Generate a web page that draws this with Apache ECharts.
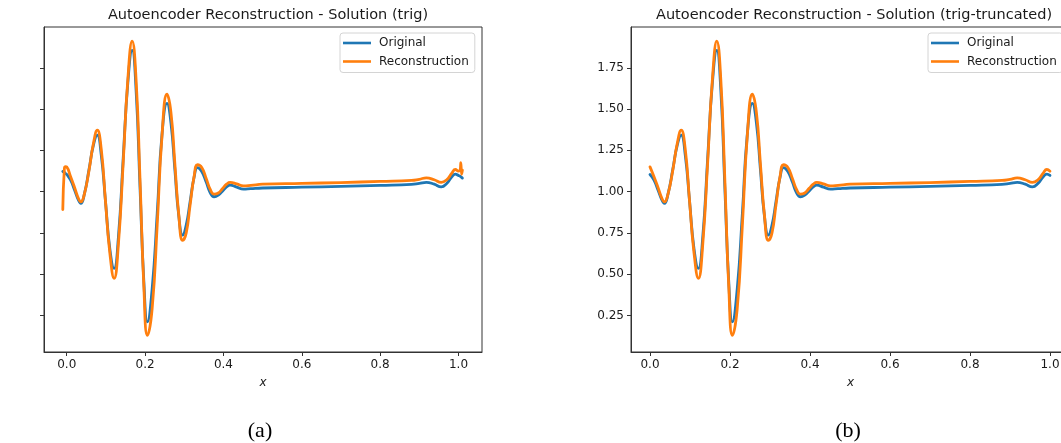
<!DOCTYPE html>
<html>
<head>
<meta charset="utf-8">
<script src="https://cdn.jsdelivr.net/npm/echarts@6/dist/echarts.min.js"></script>
<style>
  html, body { margin: 0; padding: 0; background: #fff; }
  #chart { width: 1061px; height: 443px; }
</style>
</head>
<body>
<div id="chart"></div>
<script>
// Sample positions on [0, 1] shared by both panels
const xGrid = [0.000, 0.010, 0.020, 0.030, 0.036, 0.045, 0.057, 0.068, 0.078, 0.088, 0.099, 0.110,
  0.121, 0.132, 0.144, 0.156, 0.167, 0.177, 0.187, 0.197, 0.206, 0.218, 0.231, 0.243, 0.256, 0.266,
  0.276, 0.286, 0.296, 0.305, 0.315, 0.325, 0.334, 0.345, 0.356, 0.366, 0.376, 0.387, 0.398, 0.408,
  0.417, 0.434, 0.451, 0.470, 0.500, 0.600, 0.700, 0.800, 0.880, 0.900, 0.918, 0.938, 0.956, 0.970,
  0.983, 0.992, 1.000];

// Original solution
const original = [1.104, 1.070, 1.010, 0.948, 0.929, 0.985, 1.135, 1.280, 1.342, 1.225, 0.940, 0.655,
  0.535, 0.728, 1.195, 1.660, 1.856, 1.616, 1.030, 0.450, 0.212, 0.410, 0.870, 1.340, 1.534, 1.417,
  1.135, 0.854, 0.737, 0.797, 0.940, 1.086, 1.146, 1.120, 1.058, 0.995, 0.969, 0.979, 1.004, 1.029,
  1.039, 1.027, 1.015, 1.018, 1.022, 1.027, 1.032, 1.038, 1.044, 1.050, 1.056, 1.045, 1.029, 1.050,
  1.090, 1.106, 1.098];

// Autoencoder reconstruction
const reconstruction = [1.150, 1.090, 1.025, 0.958, 0.938, 0.985, 1.130, 1.290, 1.372, 1.260, 0.940, 0.630,
  0.475, 0.685, 1.170, 1.680, 1.912, 1.680, 1.080, 0.420, 0.130, 0.290, 0.800, 1.330, 1.590, 1.480,
  1.170, 0.860, 0.705, 0.750, 0.920, 1.090, 1.163, 1.145, 1.080, 1.015, 0.985, 0.992, 1.020, 1.045,
  1.056, 1.047, 1.035, 1.038, 1.045, 1.050, 1.055, 1.062, 1.068, 1.075, 1.083, 1.072, 1.056, 1.072,
  1.112, 1.134, 1.124];

// Extra samples outside [0, 1] for the full "trig" domain
const headX = [-0.010, -0.006, -0.003];
const headOriginal = [1.122, 1.116, 1.110];
const headRecon = [0.892, 1.140, 1.152];
const tailX = [1.004, 1.006, 1.008, 1.010];
const tailOriginal = [1.094, 1.090, 1.086, 1.082];
const tailRecon = [1.128, 1.176, 1.105, 1.130];

// Tick labels
const xTicks = [0.0, 0.2, 0.4, 0.6, 0.8, 1.0];
const yTicks = [0.25, 0.5, 0.75, 1.0, 1.25, 1.5, 1.75];

const titles = ['Autoencoder Reconstruction - Solution (trig)',
                'Autoencoder Reconstruction - Solution (trig-truncated)'];
const captions = ['(a)', '(b)'];

const pairs = (xs, ys) => xs.map((x, i) => [x, ys[i]]);

const origA = pairs(headX.concat(xGrid, tailX), headOriginal.concat(original, tailOriginal));
const reconA = pairs(headX.concat(xGrid, tailX), headRecon.concat(reconstruction, tailRecon));
const origB = pairs(xGrid, original);
const reconB = pairs(xGrid, reconstruction);

const FONT = 'DejaVu Sans';
const INK = '#1a1a1a';
const SPINE = '#333333';
const BLUE = '#1f77b4';
const ORANGE = '#ff7f0e';

function xAxis(gridIndex, min, max) {
  return {
    type: 'value', gridIndex, min, max,
    name: 'x', nameLocation: 'middle', nameGap: 25,
    nameTextStyle: { fontFamily: FONT, fontStyle: 'italic', fontSize: 12, color: INK },
    axisLine: { show: true, onZero: false, lineStyle: { color: SPINE, width: 1 } },
    axisTick: { show: true, length: 4, customValues: xTicks, lineStyle: { color: SPINE } },
    axisLabel: { show: true, customValues: xTicks, margin: 7, fontFamily: FONT, fontSize: 12, color: INK,
                 formatter: v => v.toFixed(1) },
    splitLine: { show: false }
  };
}
function yAxis(gridIndex, showLabels) {
  return {
    type: 'value', gridIndex, min: 0.029, max: 1.997,
    axisLine: { show: true, onZero: false, lineStyle: { color: SPINE, width: 1 } },
    axisTick: { show: true, length: 4, customValues: yTicks, lineStyle: { color: SPINE } },
    axisLabel: { show: showLabels, customValues: yTicks, margin: 7, fontFamily: FONT, fontSize: 12, color: INK,
                 formatter: v => v.toFixed(2) },
    splitLine: { show: false }
  };
}
function line(name, data, color, idx) {
  return {
    type: 'line', name, data, xAxisIndex: idx, yAxisIndex: idx,
    symbol: 'none', showSymbol: false, smooth: 0.5,
    lineStyle: { width: 2.8, color, join: 'round', cap: 'round' }, itemStyle: { color },
    emphasis: { disabled: true }, silent: true
  };
}
function legend(left) {
  return {
    orient: 'vertical', left, top: 33,
    padding: [3, 6, 4, 3], itemWidth: 28, itemHeight: 2.6, itemGap: 4.5,
    icon: 'rect',
    backgroundColor: 'rgba(255,255,255,0.8)', borderColor: '#d4d4d4', borderWidth: 1, borderRadius: 3,
    textStyle: { fontFamily: FONT, fontSize: 12, color: INK, padding: [0, 0, 0, 3], lineHeight: 14 },
    data: ['Original', 'Reconstruction'], selectedMode: false
  };
}

const chart = echarts.init(document.getElementById('chart'), null, { renderer: 'canvas' });
chart.setOption({
  animation: false,
  backgroundColor: '#ffffff',
  title: [
    { text: titles[0], left: 263, top: 3, textAlign: 'center',
      textStyle: { fontFamily: FONT, fontSize: 14.5, fontWeight: 'normal', color: INK } },
    { text: titles[1], left: 849, top: 3, textAlign: 'center',
      textStyle: { fontFamily: FONT, fontSize: 14.5, fontWeight: 'normal', color: INK } },
    { text: captions[0], left: 255, top: 415, textAlign: 'center',
      textStyle: { fontFamily: 'Liberation Serif', fontSize: 22, fontWeight: 'normal', color: '#000' } },
    { text: captions[1], left: 843, top: 415, textAlign: 'center',
      textStyle: { fontFamily: 'Liberation Serif', fontSize: 22, fontWeight: 'normal', color: '#000' } }
  ],
  legend: [legend(340), legend(928)],
  grid: [
    { left: 44, top: 27, width: 438, height: 325, show: true, borderColor: SPINE, borderWidth: 1,
      containLabel: false, outerBoundsMode: 'none' },
    { left: 631, top: 27, width: 439, height: 325, show: true, borderColor: SPINE, borderWidth: 1,
      containLabel: false, outerBoundsMode: 'none' }
  ],
  xAxis: [xAxis(0, -0.058, 1.06), xAxis(1, -0.0475, 1.05)],
  yAxis: [yAxis(0, false), yAxis(1, true)],
  series: [
    line('Original', origA, BLUE, 0),
    line('Reconstruction', reconA, ORANGE, 0),
    line('Original', origB, BLUE, 1),
    line('Reconstruction', reconB, ORANGE, 1)
  ]
});
</script>
</body>
</html>
